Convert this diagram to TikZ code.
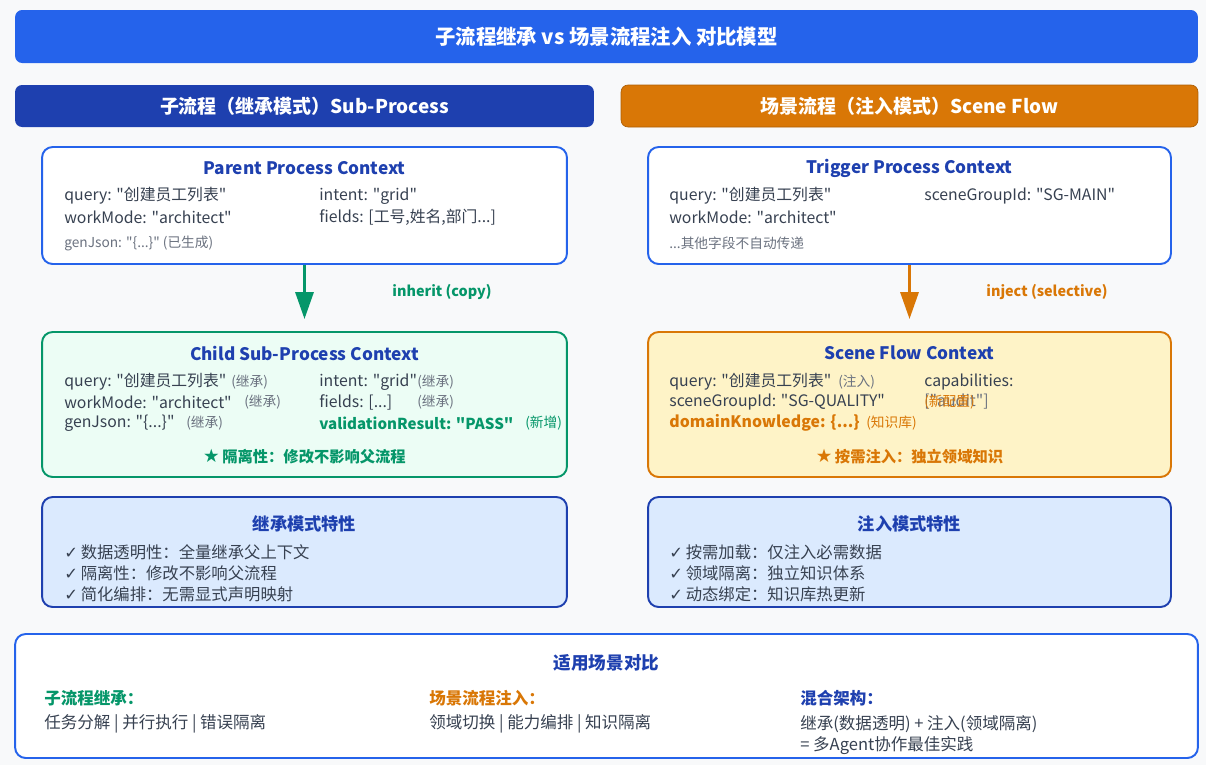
\documentclass[tikz,border=0pt]{standalone}
\usepackage{fontspec}
\setmainfont{Noto Sans CJK SC}[Ligatures=TeXOff]
\newfontfamily\symfont{DejaVu Sans}
\usetikzlibrary{arrows.meta}

\definecolor{titleblue}{HTML}{2563EB}
\definecolor{darkblue}{HTML}{1E40AF}
\definecolor{injorange}{HTML}{D97706}
\definecolor{inhgreen}{HTML}{059669}
\definecolor{pagebg}{HTML}{F8F9FA}
\definecolor{bodytext}{HTML}{374151}
\definecolor{notegray}{HTML}{6B7280}
\definecolor{childfill}{HTML}{ECFDF5}
\definecolor{scenefill}{HTML}{FEF3C7}
\definecolor{featfill}{HTML}{DBEAFE}

\newcommand{\ok}{{\symfont\char"2713}\,}
\newcommand{\starsym}{{\symfont\fontsize{10.5}{11}\selectfont\char"2605}\,}

\begin{document}
\begin{tikzpicture}[
       x=0.02cm, y=-0.02cm,
       banner/.style={
         rounded corners=4pt,
         text=white,
         font=\fontsize{10.8}{12}\selectfont\bfseries
       },
       ctxbox/.style={
         draw,
         rounded corners=6pt,
         line width=1.1pt,
         minimum width=10.5cm
       },
       boxtitle/.style={
         text=darkblue,
         font=\fontsize{9.8}{12}\selectfont\bfseries
       },
       field/.style={
         anchor=west,
         inner sep=0pt,
         text=bodytext,
         font=\fontsize{9}{11}\selectfont
       },
       note/.style={
         anchor=west,
         inner sep=0pt,
         text=notegray,
         font=\fontsize{7.8}{10}\selectfont
       },
       usagetext/.style={
         field,
         font=\fontsize{9.4}{11}\selectfont
       },
       flow/.style={
         line width=1.8pt,
         -{Triangle[width=0.36cm,length=0.54cm]},
         shorten >=0.24cm
       }
     ]
\useasboundingbox[fill=pagebg] (0,0) rectangle (1206,765);

% banners
\node[banner,fill=titleblue,minimum width=23.66cm,minimum height=1.06cm,font=\fontsize{11.6}{13}\selectfont\bfseries] (title) at (606.5,36.5) {子流程继承 vs 场景流程注入 对比模型};
\node[banner,fill=darkblue,minimum width=11.58cm,minimum height=0.84cm] (lhead) at (304.5,106) {子流程（继承模式）Sub-Process};
\node[banner,fill=injorange,draw=injorange!80!black,minimum width=11.54cm,minimum height=0.84cm] (rhead) at (909.5,106) {场景流程（注入模式）Scene Flow};

% left column: inheritance
\node[ctxbox,draw=titleblue,fill=white,minimum height=2.34cm] (parent) at (304.5,205.5) {};
\node[boxtitle] (parentT) at (304.5,168) {Parent Process Context};
\node[field] (pq) at (64,196) {query: "创建员工列表"};
\node[field] (pi) at (319,196) {intent: "grid"};
\node[field] (pw) at (64,217) {workMode: "architect"};
\node[field] (pf) at (319,217) {fields: [工号,姓名,部门...]};
\node[note] (pg) at (64,243) {genJson: "\{...\}" (已生成)};

\node[ctxbox,draw=inhgreen,fill=childfill,minimum height=2.9cm] (child) at (304.5,404.5) {};
\node[boxtitle] (childT) at (304.5,353) {Child Sub-Process Context};
\node[field] (cq) at (64,382) {query: "创建员工列表"};
\node[note] (cqn) at (231,382) {(继承)};
\node[field] (ci) at (319,382) {intent: "grid"};
\node[note] (cin) at (417,382) {(继承)};
\node[field] (cw) at (64,402) {workMode: "architect"};
\node[note] (cwn) at (244,402) {(继承)};
\node[field] (cf) at (319,402) {fields: [...]};
\node[note] (cfn) at (417,402) {(继承)};
\node[field] (cg) at (64,423) {genJson: "\{...\}"};
\node[note] (cgn) at (186,423) {(继承)};
\node[field,text=inhgreen,font=\fontsize{8.6}{11}\selectfont\bfseries] (cv) at (319,423) {validationResult: "PASS"};
\node[note,text=inhgreen] (cvn) at (525,423) {(新增)};
\node[text=inhgreen,font=\fontsize{8.7}{11}\selectfont\bfseries] (cstar) at (304.5,457) {\starsym 隔离性：修改不影响父流程};

\draw[flow,inhgreen] (parent) -- (child);
\node[text=inhgreen,font=\fontsize{8.2}{10}\selectfont\bfseries] (inh) at (442,292) {inherit (copy)};

\node[ctxbox,draw=darkblue,fill=featfill,minimum height=2.2cm] (lfeat) at (304.5,552) {};
\node[boxtitle] (lfeatT) at (304.5,524) {继承模式特性};
\node[field,font=\fontsize{9.3}{11}\selectfont] (lf1) at (64,552) {\ok 数据透明性：全量继承父上下文};
\node[field,font=\fontsize{9.3}{11}\selectfont] (lf2) at (64,573) {\ok 隔离性：修改不影响父流程};
\node[field,font=\fontsize{9.3}{11}\selectfont] (lf3) at (64,594) {\ok 简化编排：无需显式声明映射};

% right column: injection
\node[ctxbox,draw=titleblue,fill=white,minimum width=10.46cm,minimum height=2.34cm] (trigger) at (909.5,205.5) {};
\node[boxtitle] (triggerT) at (909.5,168) {Trigger Process Context};
\node[field] (tq) at (669,196) {query: "创建员工列表"};
\node[field] (ts) at (924,196) {sceneGroupId: "SG-MAIN"};
\node[field] (tw) at (669,217) {workMode: "architect"};
\node[note] (to) at (669,243) {...其他字段不自动传递};

\node[ctxbox,draw=injorange,fill=scenefill,minimum width=10.46cm,minimum height=2.9cm] (scene) at (909.5,404.5) {};
\node[boxtitle] (sceneT) at (909.5,353) {Scene Flow Context};
\node[field] (sq) at (669,382) {query: "创建员工列表"};
\node[note] (sqn) at (838,382) {(注入)};
\node[field] (sc) at (924,382) {capabilities:};
\node[field] (ss) at (669,402) {sceneGroupId: "SG-QUALITY"};
\node[note,font=\fontsize{9}{11}\selectfont] (sca) at (924,402) {["audit"]};
\node[note,text=injorange] (scn) at (924,402) {(新配置)};
\node[field,text=injorange,font=\fontsize{9}{11}\selectfont\bfseries] (sd) at (669,423) {domainKnowledge: \{...\}};
\node[note,text=injorange] (sdn) at (866,423) {(知识库)};
\node[text=injorange,font=\fontsize{8.7}{11}\selectfont\bfseries] (sstar) at (909.5,457) {\starsym 按需注入：独立领域知识};

\draw[flow,injorange] (trigger) -- (scene);
\node[text=injorange,font=\fontsize{8.2}{10}\selectfont\bfseries] (inj) at (1047,292) {inject (selective)};

\node[ctxbox,draw=darkblue,fill=featfill,minimum width=10.46cm,minimum height=2.2cm] (rfeat) at (909.5,552) {};
\node[boxtitle] (rfeatT) at (909.5,524) {注入模式特性};
\node[field,font=\fontsize{9.3}{11}\selectfont] (rf1) at (669,552) {\ok 按需加载：仅注入必需数据};
\node[field,font=\fontsize{9.3}{11}\selectfont] (rf2) at (669,573) {\ok 领域隔离：独立知识体系};
\node[field,font=\fontsize{9.3}{11}\selectfont] (rf3) at (669,594) {\ok 动态绑定：知识库热更新};

% usage comparison
\node[ctxbox,draw=titleblue,fill=white,minimum width=23.66cm,minimum height=2.48cm] (usage) at (606.5,696) {};
\node[boxtitle,font=\fontsize{10}{12}\selectfont\bfseries] (usageT) at (606.5,663) {适用场景对比};
\node[usagetext,text=inhgreen,font=\fontsize{9.4}{11}\selectfont\bfseries] (u1h) at (44,698) {子流程继承：};
\node[usagetext] (u1t) at (44,724) {任务分解 | 并行执行 | 错误隔离};
\node[usagetext,text=injorange,font=\fontsize{9.4}{11}\selectfont\bfseries] (u2h) at (429,698) {场景流程注入：};
\node[usagetext] (u2t) at (429,724) {领域切换 | 能力编排 | 知识隔离};
\node[usagetext,text=darkblue,font=\fontsize{9.4}{11}\selectfont\bfseries] (u3h) at (800,698) {混合架构：};
\node[usagetext] (u3t) at (800,724) {继承(数据透明) + 注入(领域隔离)};
\node[usagetext] (u3b) at (800,746) {= 多Agent协作最佳实践};

\end{tikzpicture}
\end{document}
